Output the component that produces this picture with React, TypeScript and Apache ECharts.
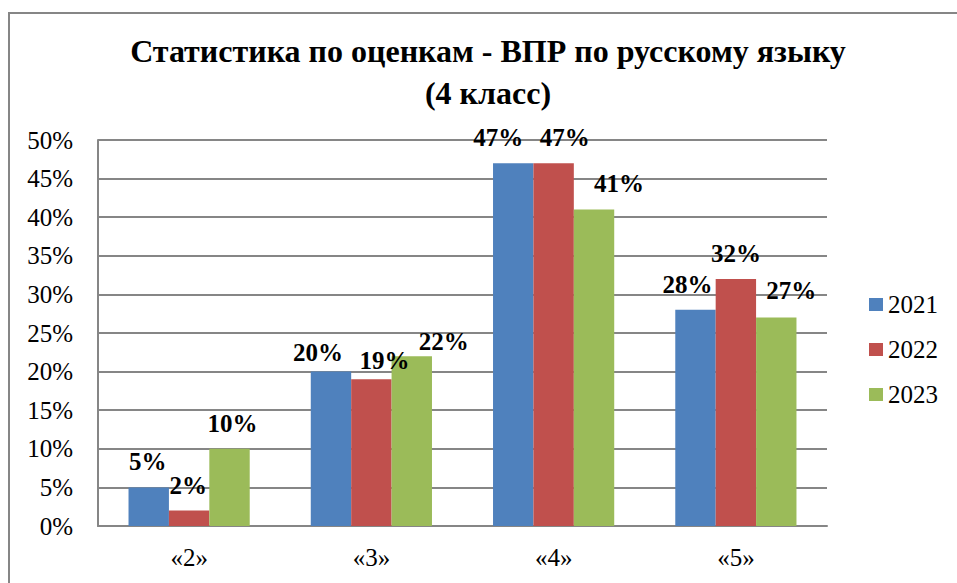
import React, { useEffect, useRef } from "react";
import * as echarts from "echarts";

const categories = ["«2»", "«3»", "«4»", "«5»"];
const seriesNames = ["2021", "2022", "2023"];
const values2021 = [5, 20, 47, 28];
const values2022 = [2, 19, 47, 32];
const values2023 = [10, 22, 41, 27];
const titleText = "Статистика по оценкам - ВПР по русскому языку\n(4 класс)";

// manual label nudges (dx, dy) as in the original, per series per category
const labelNudges2021 = [[-1, 0], [-13, 6], [-15, 0], [-8, 0]];
const labelNudges2022 = [[-1, 0], [13, 7], [11, 0], [0, 0]];
const labelNudges2023 = [[3, 0], [32, 11], [25, 0], [15, -2]];

const FONT = "Liberation Serif";
const colors = ["#4F81BD", "#C0504D", "#9BBB59"];

export default function App() {
  const ref = useRef<HTMLDivElement>(null);
  useEffect(() => {
    if (!ref.current) return;
    const chart = echarts.init(ref.current, null, { renderer: "svg" });
    const allValues = [values2021, values2022, values2023];
    const allNudges = [labelNudges2021, labelNudges2022, labelNudges2023];
    chart.setOption({
      animation: false,
      color: colors,
      title: {
        text: titleText,
        left: 483,
        top: 25,
        textAlign: "center",
        textStyle: {
          fontFamily: FONT,
          fontSize: 32,
          fontWeight: "bold",
          color: "#000",
          lineHeight: 42,
        },
      },
      legend: {
        orient: "vertical",
        left: 869,
        top: 292,
        padding: 0,
        itemWidth: 14,
        itemHeight: 13,
        itemGap: 20,
        icon: "rect",
        data: seriesNames,
        textStyle: { fontFamily: FONT, fontSize: 25, color: "#000" },
      },
      grid: { left: 98, right: 130, top: 140, bottom: 57 },
      xAxis: {
        type: "category",
        data: categories,
        axisLine: { lineStyle: { color: "#868686", width: 2 } },
        axisTick: { show: false },
        axisLabel: { fontFamily: FONT, fontSize: 25, color: "#000", margin: 19 },
      },
      yAxis: {
        type: "value",
        min: 0,
        max: 50,
        interval: 5,
        axisLine: { show: true, lineStyle: { color: "#868686", width: 2 } },
        axisTick: { show: false },
        splitLine: { lineStyle: { color: "#868686", width: 2 } },
        axisLabel: {
          formatter: "{value}%",
          fontFamily: FONT,
          fontSize: 25,
          color: "#000",
          margin: 25,
        },
      },
      series: seriesNames.map((name, si) => ({
        name,
        type: "bar",
        barGap: "0%",
        barCategoryGap: "33.5%",
        data: allValues[si].map((v, ci) => ({
          value: v,
          label: { offset: allNudges[si][ci] },
        })),
        label: {
          show: true,
          position: "top",
          distance: 13,
          formatter: "{c}%",
          fontFamily: FONT,
          fontSize: 25,
          fontWeight: "bold",
          color: "#000",
        },
      })),
    });
    return () => chart.dispose();
  }, []);
  return (
    <div
      style={{
        position: "fixed",
        left: 0,
        top: 0,
        width: 957,
        height: 583,
        overflow: "hidden",
        background: "#fff",
      }}
    >
      <div
        style={{
          position: "absolute",
          left: 8,
          top: 12,
          width: 1200,
          height: 1000,
          border: "2px solid #868686",
          boxSizing: "border-box",
        }}
      />
      <div ref={ref} style={{ position: "absolute", left: 0, top: 0, width: 957, height: 583 }} />
    </div>
  );
}
